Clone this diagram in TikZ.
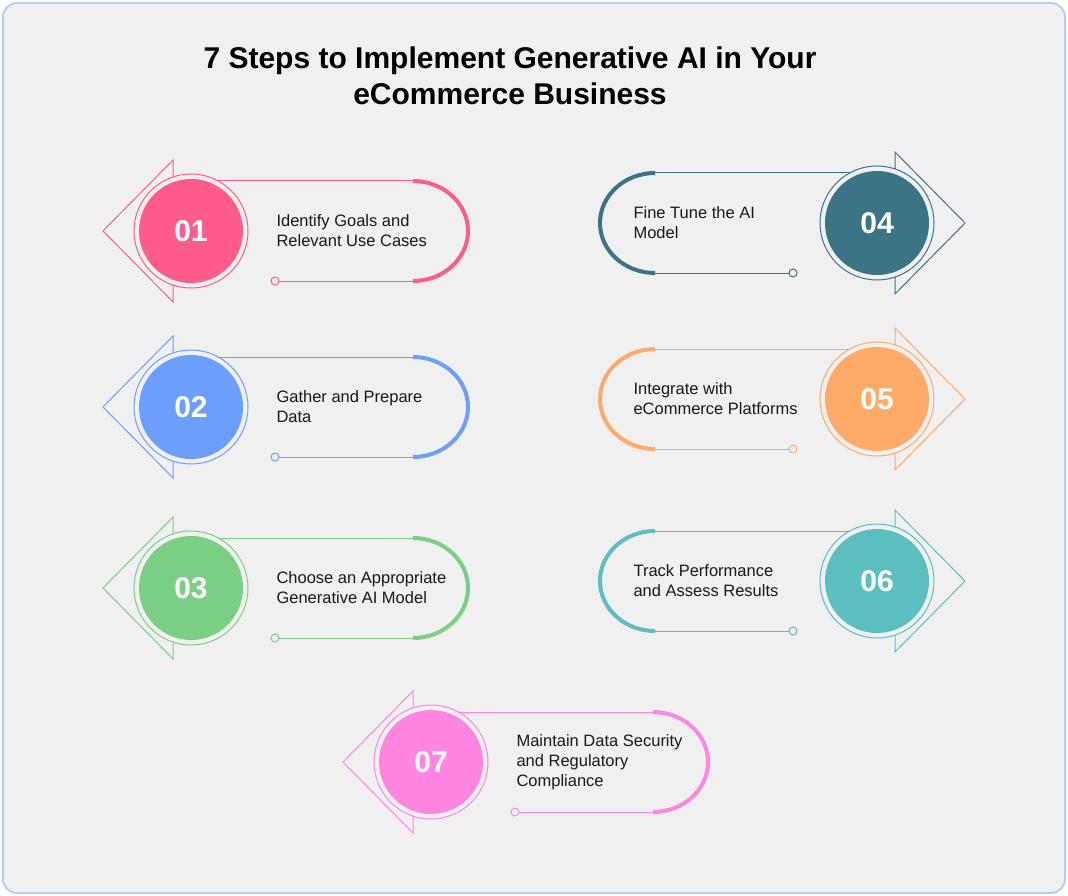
\documentclass[tikz,border=0pt]{standalone}
\usepackage{fontspec}
\setmainfont{Liberation Sans}
\definecolor{bgc}{HTML}{F0F0F0}
\definecolor{brd}{HTML}{B9CCF5}
\definecolor{cA}{HTML}{FF5C8D}
\definecolor{cB}{HTML}{6C9EFF}
\definecolor{cC}{HTML}{7ACF85}
\definecolor{cD}{HTML}{3A7485}
\definecolor{cE}{HTML}{FFAA66}
\definecolor{cF}{HTML}{5BBFBF}
\definecolor{cG}{HTML}{FF85E0}
\tikzset{
  numdisc/.style={circle,minimum size=104pt,inner sep=0pt,text=white,font=\fontsize{30}{32}\selectfont\bfseries},
  thinln/.style={line width=1pt},
  thickln/.style={line width=4pt},
  lbl/.style={anchor=west,align=left,font=\fontsize{16.5}{20}\selectfont,text=black!90}
}
\newcommand{\stepLeft}[6]{% name cx cy color num text
  \node[numdisc,fill=#4] (#1) at (#2,#3) {#5};
  \draw[#4,thinln] (#1.center) circle[radius=57];
  \draw[#4,thinln] (#2-18,#3-54) -- (#2-18,#3-71) -- (#2-88,#3) -- (#2-18,#3+71) -- (#2-18,#3+54);
  \draw[#4,thinln] (#2+27,#3-50) -- (#2+224,#3-50);
  \draw[#4,thickln] (#2+222,#3-50) arc[start angle=-90,end angle=90,x radius=55,y radius=50];
  \draw[#4,thinln] (#2+222,#3+50) -- (#2+88,#3+50);
  \draw[#4,thinln] (#2+84,#3+50) circle[radius=4];
  \node[lbl] (#1t) at (#2+82,#3) {#6};
}
\newcommand{\stepRight}[6]{%
  \node[numdisc,fill=#4] (#1) at (#2,#3) {#5};
  \draw[#4,thinln] (#1.center) circle[radius=57];
  \draw[#4,thinln] (#2+18,#3-54) -- (#2+18,#3-71) -- (#2+88,#3) -- (#2+18,#3+71) -- (#2+18,#3+54);
  \draw[#4,thinln] (#2-27,#3-50) -- (#2-224,#3-50);
  \draw[#4,thickln] (#2-222,#3-50) arc[start angle=-90,end angle=-270,x radius=55,y radius=50];
  \draw[#4,thinln] (#2-222,#3+50) -- (#2-88,#3+50);
  \draw[#4,thinln] (#2-84,#3+50) circle[radius=4];
  \node[lbl] (#1t) at (#2-247,#3) {#6};
}
\begin{document}
\begin{tikzpicture}[x=1pt,y=-1pt]
\useasboundingbox (0,0) rectangle (1068,896);
\draw[brd,fill=bgc,line width=2pt,rounded corners=14pt] (3,3) rectangle (1065,893);
\node[font=\fontsize{30}{36}\selectfont\bfseries,align=center] (title) at (510,76) {7 Steps to Implement Generative AI in Your\\eCommerce Business};
\stepLeft{s1}{191}{231}{cA}{01}{Identify Goals and\\Relevant Use Cases}
\stepLeft{s2}{191}{407}{cB}{02}{Gather and Prepare\\Data}
\stepLeft{s3}{191}{588}{cC}{03}{Choose an Appropriate\\Generative AI Model}
\stepRight{s4}{877}{223}{cD}{04}{Fine Tune the AI\\Model}
\stepRight{s5}{877}{399}{cE}{05}{Integrate with\\eCommerce Platforms}
\stepRight{s6}{877}{581}{cF}{06}{Track Performance\\and Assess Results}
\stepLeft{s7}{431}{762}{cG}{07}{Maintain Data Security\\and Regulatory\\Compliance}
\end{tikzpicture}
\end{document}
